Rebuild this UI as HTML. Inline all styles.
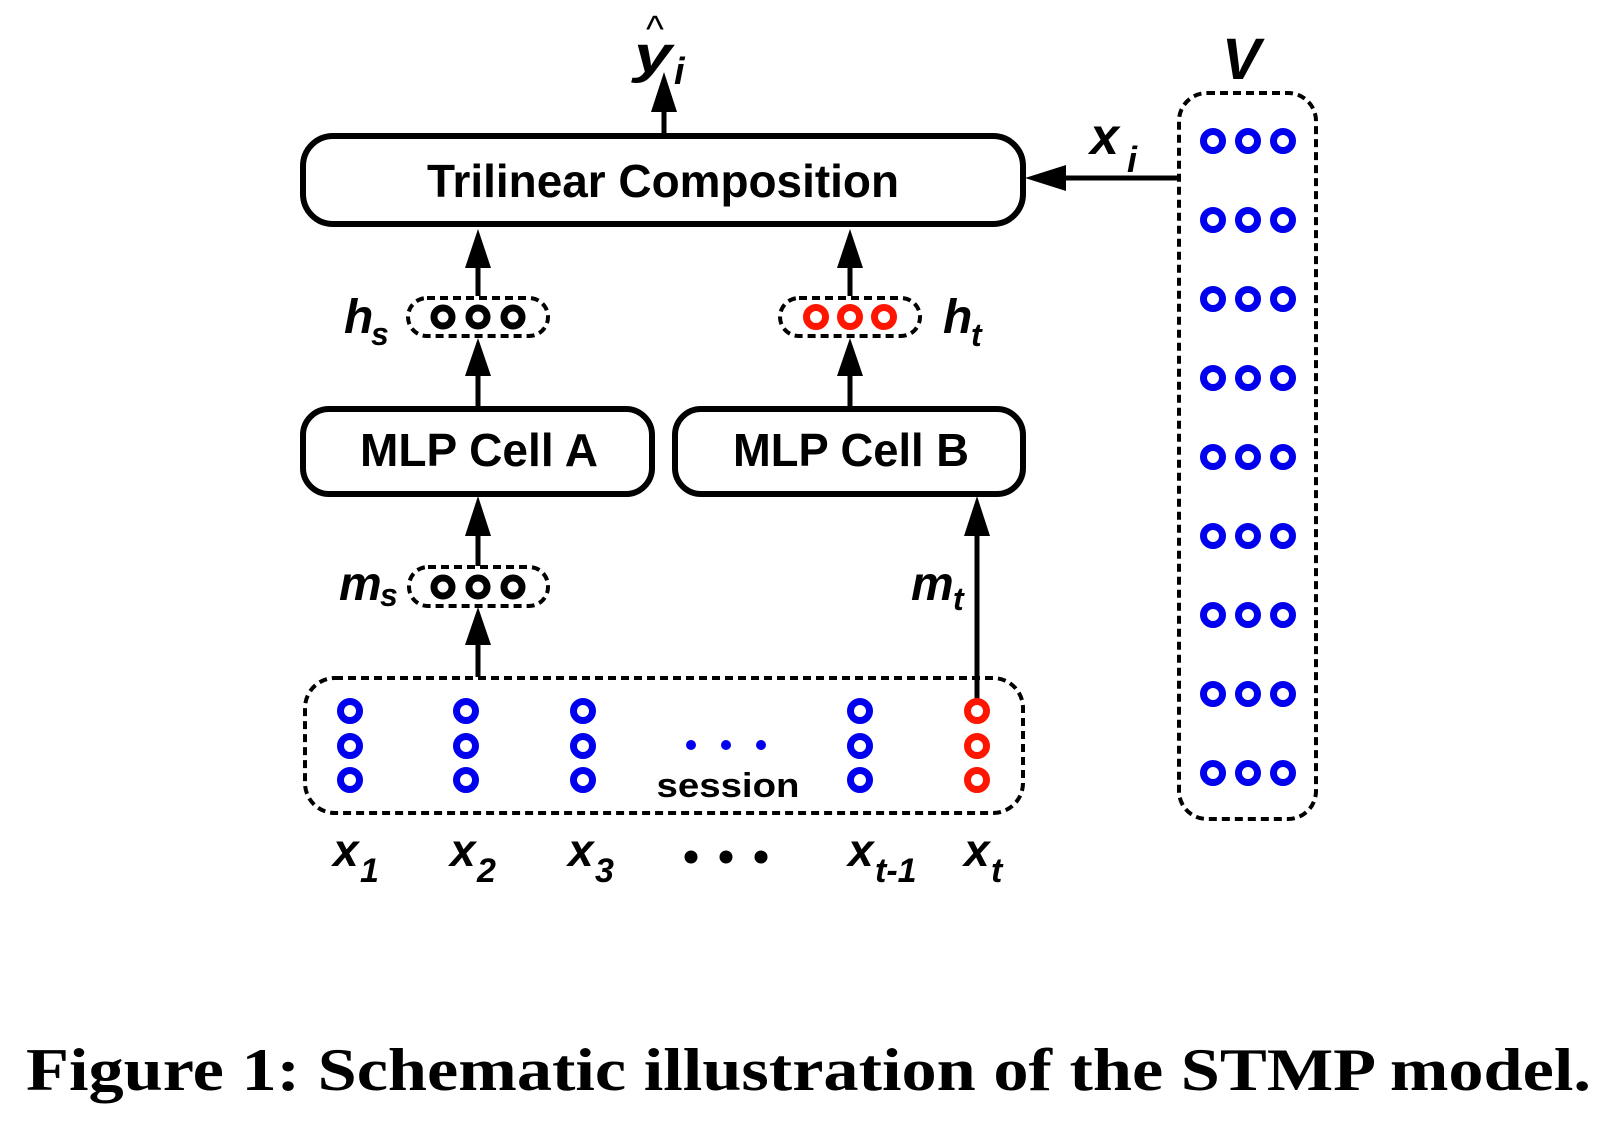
<!DOCTYPE html>
<html><head><meta charset="utf-8"><style>html,body{margin:0;padding:0;background:#fff;}svg{display:block}</style></head>
<body>
<svg width="1620" height="1124" viewBox="0 0 1620 1124" xmlns="http://www.w3.org/2000/svg">
<defs>
<g id="bc"><circle r="9.5" fill="none" stroke="#0000ee" stroke-width="7"/></g>
<g id="rc"><circle r="9.5" fill="none" stroke="#ff1500" stroke-width="7"/></g>
<g id="kc"><circle r="9" fill="none" stroke="#000" stroke-width="7"/></g>
</defs>
<g font-family="Liberation Sans, Arial, sans-serif" font-weight="bold">
<rect x="303" y="136" width="720" height="88" rx="30" fill="#fff" stroke="#000" stroke-width="6"/>
<text x="663" y="197" font-size="46" text-anchor="middle" textLength="472" lengthAdjust="spacingAndGlyphs">Trilinear Composition</text>
<line x1="664" y1="133" x2="664" y2="105" stroke="#000" stroke-width="5"/>
<polygon points="664,72 651,112 677,112" fill="#000"/>
<text x="634" y="72" font-size="52" font-style="italic" textLength="38" lengthAdjust="spacingAndGlyphs">y</text>
<text x="646" y="42" font-size="38" font-weight="normal">^</text>
<text x="674" y="84" font-size="38" font-style="italic">i</text>
<rect x="303" y="409" width="349" height="85" rx="26" fill="#fff" stroke="#000" stroke-width="6"/>
<text x="479" y="466" font-size="46" text-anchor="middle" textLength="238" lengthAdjust="spacingAndGlyphs">MLP Cell A</text>
<rect x="675" y="409" width="348" height="85" rx="26" fill="#fff" stroke="#000" stroke-width="6"/>
<text x="851" y="466" font-size="46" text-anchor="middle" textLength="236" lengthAdjust="spacingAndGlyphs">MLP Cell B</text>
<line x1="478" y1="296" x2="478" y2="262" stroke="#000" stroke-width="5"/>
<polygon points="478,229 465,268 491,268" fill="#000"/>
<line x1="478" y1="407" x2="478" y2="370" stroke="#000" stroke-width="5"/>
<polygon points="478,338 465,376 491,376" fill="#000"/>
<line x1="850" y1="296" x2="850" y2="262" stroke="#000" stroke-width="5"/>
<polygon points="850,229 837,268 863,268" fill="#000"/>
<line x1="850" y1="407" x2="850" y2="370" stroke="#000" stroke-width="5"/>
<polygon points="850,338 837,376 863,376" fill="#000"/>
<rect x="408" y="298" width="140" height="38" rx="19" fill="#fff" stroke="#000" stroke-width="4" stroke-dasharray="8,5"/>
<use href="#kc" x="443" y="317"/><use href="#kc" x="478" y="317"/><use href="#kc" x="513" y="317"/>
<text x="344" y="333" font-size="48" font-style="italic">h</text>
<text x="371" y="345" font-size="32" font-style="italic">s</text>
<rect x="780" y="298" width="140" height="38" rx="19" fill="#fff" stroke="#000" stroke-width="4" stroke-dasharray="8,5"/>
<use href="#rc" x="816" y="317"/><use href="#rc" x="850" y="317"/><use href="#rc" x="884" y="317"/>
<text x="943" y="333" font-size="48" font-style="italic">h</text>
<text x="971" y="346" font-size="32" font-style="italic">t</text>
<line x1="478" y1="566" x2="478" y2="530" stroke="#000" stroke-width="5"/>
<polygon points="478,496 465,536 491,536" fill="#000"/>
<line x1="478" y1="677" x2="478" y2="640" stroke="#000" stroke-width="5"/>
<polygon points="478,607 465,645 491,645" fill="#000"/>
<rect x="409" y="567" width="139" height="39" rx="19" fill="#fff" stroke="#000" stroke-width="4" stroke-dasharray="8,5"/>
<use href="#kc" x="443" y="587"/><use href="#kc" x="478" y="587"/><use href="#kc" x="513" y="587"/>
<text x="339" y="600" font-size="48" font-style="italic">m</text>
<text x="380" y="606" font-size="32" font-style="italic">s</text>
<line x1="977" y1="700" x2="977" y2="530" stroke="#000" stroke-width="5"/>
<polygon points="977,496 964,536 990,536" fill="#000"/>
<text x="911" y="600" font-size="48" font-style="italic">m</text>
<text x="953" y="610" font-size="32" font-style="italic">t</text>
<rect x="305" y="678" width="718" height="135" rx="30" fill="none" stroke="#000" stroke-width="4" stroke-dasharray="8,5"/>
<g>
<use href="#bc" x="350" y="711"/><use href="#bc" x="350" y="746"/><use href="#bc" x="350" y="780"/>
<use href="#bc" x="466" y="711"/><use href="#bc" x="466" y="746"/><use href="#bc" x="466" y="780"/>
<use href="#bc" x="583" y="711"/><use href="#bc" x="583" y="746"/><use href="#bc" x="583" y="780"/>
<use href="#bc" x="860" y="711"/><use href="#bc" x="860" y="746"/><use href="#bc" x="860" y="780"/>
<use href="#rc" x="977" y="711"/><use href="#rc" x="977" y="746"/><use href="#rc" x="977" y="780"/>
<circle cx="691" cy="745" r="5" fill="#0000ee"/><circle cx="726" cy="745" r="5" fill="#0000ee"/><circle cx="761" cy="745" r="5" fill="#0000ee"/>
</g>
<text x="728" y="797" font-size="34" text-anchor="middle" textLength="143" lengthAdjust="spacingAndGlyphs">session</text>
<g font-style="italic">
<text x="333" y="866" font-size="46">x</text><text x="360" y="882" font-size="34">1</text>
<text x="450" y="866" font-size="46">x</text><text x="477" y="882" font-size="34">2</text>
<text x="568" y="866" font-size="46">x</text><text x="595" y="882" font-size="34">3</text>
<text x="848" y="866" font-size="46">x</text><text x="875" y="882" font-size="34">t-1</text>
<text x="964" y="866" font-size="46">x</text><text x="991" y="882" font-size="34">t</text>
</g>
<circle cx="691" cy="857" r="6.5" fill="#000"/><circle cx="726" cy="857" r="6.5" fill="#000"/><circle cx="761" cy="857" r="6.5" fill="#000"/>
<rect x="1179" y="93" width="137" height="726" rx="28" fill="none" stroke="#000" stroke-width="4" stroke-dasharray="8,5"/>
<g>
<use href="#bc" x="1213" y="141"/><use href="#bc" x="1248" y="141"/><use href="#bc" x="1283" y="141"/>
<use href="#bc" x="1213" y="220"/><use href="#bc" x="1248" y="220"/><use href="#bc" x="1283" y="220"/>
<use href="#bc" x="1213" y="299"/><use href="#bc" x="1248" y="299"/><use href="#bc" x="1283" y="299"/>
<use href="#bc" x="1213" y="378"/><use href="#bc" x="1248" y="378"/><use href="#bc" x="1283" y="378"/>
<use href="#bc" x="1213" y="457"/><use href="#bc" x="1248" y="457"/><use href="#bc" x="1283" y="457"/>
<use href="#bc" x="1213" y="536"/><use href="#bc" x="1248" y="536"/><use href="#bc" x="1283" y="536"/>
<use href="#bc" x="1213" y="615"/><use href="#bc" x="1248" y="615"/><use href="#bc" x="1283" y="615"/>
<use href="#bc" x="1213" y="694"/><use href="#bc" x="1248" y="694"/><use href="#bc" x="1283" y="694"/>
<use href="#bc" x="1213" y="773"/><use href="#bc" x="1248" y="773"/><use href="#bc" x="1283" y="773"/>
</g>
<text x="1222" y="79" font-size="58" font-style="italic">V</text>
<line x1="1179" y1="178" x2="1060" y2="178" stroke="#000" stroke-width="5"/>
<polygon points="1025,178 1066,165 1066,191" fill="#000"/>
<text x="1090" y="154" font-size="52" font-style="italic">x</text>
<text x="1127" y="172" font-size="36" font-style="italic">i</text>
</g>
<text x="26" y="1090" font-family="Liberation Serif, serif" font-weight="bold" font-size="60" textLength="1565" lengthAdjust="spacingAndGlyphs">Figure 1: Schematic illustration of the STMP model.</text>
</svg>
</body></html>
